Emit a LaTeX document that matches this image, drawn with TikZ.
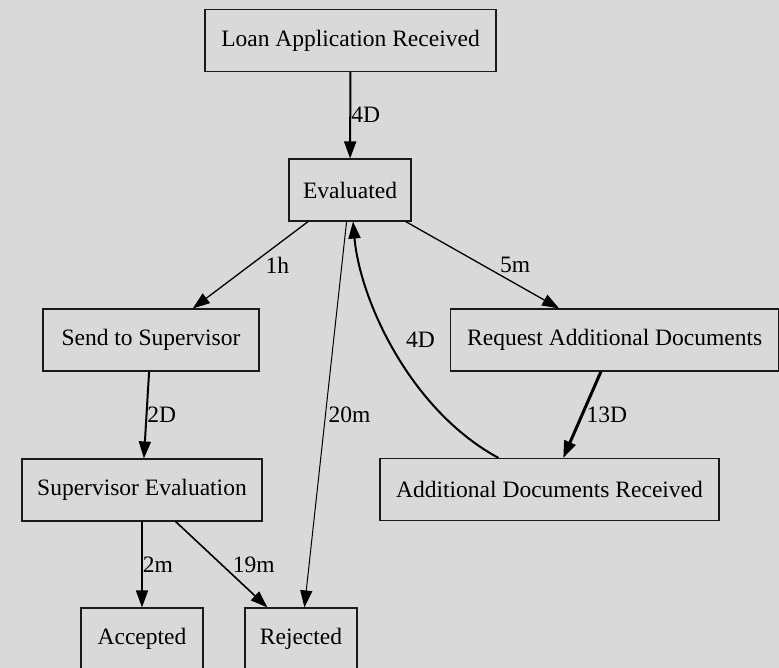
\documentclass[tikz,border=0pt]{standalone}
\usepackage{fontspec}
\setmainfont{Liberation Serif}
\usetikzlibrary{positioning,arrows.meta}
\definecolor{fondo}{HTML}{D9D9D9}
\definecolor{borde}{HTML}{1A1A1A}

\begin{document}
\begin{tikzpicture}[x=1pt, y=-1pt, font=\fontsize{23.5}{28}\selectfont,
    paso/.style={draw=borde, line width=1.1pt, fill=fondo, minimum height=62pt, inner xsep=12pt},
    flujo/.style={draw=black, line width=1pt, -{Triangle[length=17pt, width=12pt]}},
    etiq/.style={anchor=west, inner sep=0pt}]
    % fondo y margenes
    \fill[fondo] (0,0) rectangle (779,668);
    \useasboundingbox (0,0) rectangle (779,668);
    % estados
    \node[paso, minimum width=291pt] (recibida) at (350.5, 40.5) {Loan Application Received};
    \node[paso, minimum width=122pt] (evaluada) at (350, 190) {Evaluated};
    \node[paso, minimum width=216pt] (supervisor) at (151, 340) {Send to Supervisor};
    \node[paso, minimum width=328pt] (pedirdocs) at (614.7, 340) {Request Additional Documents};
    \node[paso, minimum width=240pt] (evalsup) at (142, 490) {Supervisor Evaluation};
    \node[paso, minimum width=339pt] (docsrecib) at (549.5, 489.5) {Additional Documents Received};
    \node[paso, minimum width=122pt] (aceptada) at (142, 639) {Accepted};
    \node[paso, minimum width=112pt] (rechazada) at (301, 639) {Rejected};
    % transiciones, con su tiempo
    \draw[flujo, line width=2pt] (recibida) -- node[etiq, pos=0.5] {4D} (evaluada);
    \draw[flujo, line width=1.3pt] (evaluada) -- node[etiq, pos=0.5, xshift=14.5pt] {1h} (supervisor);
    \draw[flujo, line width=1.3pt] (evaluada) -- node[etiq, pos=0.5, xshift=17pt] {5m} (pedirdocs);
    \draw[flujo] (evaluada) -- node[etiq, pos=0.5, xshift=2.5pt] {20m} (rechazada);
    \draw[flujo, line width=2pt] (supervisor) -- node[etiq, pos=0.5] {2D} (evalsup);
    \draw[flujo, line width=3pt] (pedirdocs) -- node[etiq, pos=0.5, xshift=3pt] {13D} (docsrecib);
    \draw[flujo, line width=1.6pt] (evalsup) -- node[etiq, pos=0.5] {2m} (aceptada);
    \draw[flujo, line width=1.6pt] (evalsup) -- node[etiq, pos=0.5, xshift=10.5pt] {19m} (rechazada);
    % vuelta a la evaluacion
    \draw[flujo, line width=2pt] ([xshift=-51pt]docsrecib.north) .. controls (410,410) and (360,300) ..
      node[etiq, pos=0.5, xshift=10pt, yshift=11pt] {4D} ([xshift=3pt]evaluada.south);
\end{tikzpicture}
\end{document}
